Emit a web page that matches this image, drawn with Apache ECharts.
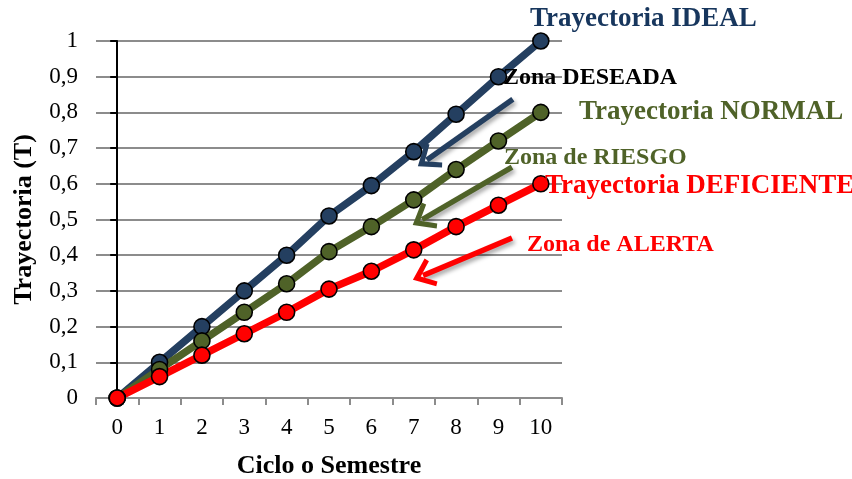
<!DOCTYPE html>
<html>
<head>
<meta charset="utf-8">
<script src="https://cdn.jsdelivr.net/npm/echarts@6/dist/echarts.min.js"></script>
<style>
html,body{margin:0;padding:0;background:#fff;}
#c{width:852px;height:479px;}
</style>
</head>
<body>
<div id="c"></div>
<script>
var categories = ['0','1','2','3','4','5','6','7','8','9','10'];
var yTickLabels = ['0','0,1','0,2','0,3','0,4','0,5','0,6','0,7','0,8','0,9','1'];
var ideal = [0, 0.1, 0.2, 0.3, 0.4, 0.51, 0.595, 0.69, 0.795, 0.9, 1.0];
var normal = [0, 0.08, 0.16, 0.24, 0.32, 0.41, 0.48, 0.555, 0.64, 0.72, 0.8];
var deficiente = [0, 0.06, 0.12, 0.18, 0.24, 0.305, 0.355, 0.415, 0.48, 0.54, 0.6];
var seriesNames = ['Trayectoria IDEAL', 'Trayectoria NORMAL', 'Trayectoria DEFICIENTE'];
var zoneNames = ['Zona DESEADA', 'Zona de RIESGO', 'Zona de ALERTA'];

var FONT = '"Liberation Serif", "Times New Roman", serif';
var cNavy = '#243F60', cOlive = '#4F6228', cRed = '#FF0000';
var chevron = 'path://M15,0 L30,19 L26,22 L15,8.5 L4,22 L0,19 Z';
var chevSize = [30, 22];

function lineSeries(name, data, color) {
  return {
    name: name, type: 'line', data: data,
    xAxisIndex: 0, yAxisIndex: 0,
    symbol: 'circle', symbolSize: 16,
    lineStyle: { color: color, width: 7.5 },
    itemStyle: { color: color, borderColor: '#000', borderWidth: 1.6 },
    animation: false
  };
}
function arrowSeries(from, to, color) {
  return {
    type: 'line', data: [], xAxisIndex: 1, yAxisIndex: 0, silent: true, animation: false,
    markLine: {
      silent: true, animation: false,
      symbol: ['none', chevron], symbolSize: [[1, 1], chevSize],
      label: { show: false },
      lineStyle: { color: color, width: 5.5, type: 'solid',
        shadowColor: 'rgba(0,0,0,0.35)', shadowBlur: 4, shadowOffsetX: 2, shadowOffsetY: 3 },
      data: [[{ coord: from, symbol: 'none' }, { coord: to, symbol: chevron, symbolSize: chevSize }]]
    }
  };
}

var chart = echarts.init(document.getElementById('c'), null, { renderer: 'canvas' });
chart.setOption({
  backgroundColor: '#fff',
  animation: false,
  grid: { left: 96, right: 290, top: 41, bottom: 81, containLabel: false, outerBoundsMode: 'none' },
  xAxis: [{
    type: 'category', data: categories, boundaryGap: true,
    name: 'Ciclo o Semestre', nameLocation: 'middle', nameGap: 55,
    nameTextStyle: { fontFamily: FONT, fontWeight: 'bold', fontSize: 26, color: '#000' },
    axisLine: { lineStyle: { color: '#8c8c8c', width: 2 } },
    axisTick: { show: true, alignWithLabel: false, length: 7, lineStyle: { color: '#8c8c8c', width: 2 } },
    axisLabel: { fontFamily: FONT, fontSize: 23, color: '#000', margin: 18 },
    splitLine: { show: false }
  }, {
    type: 'value', min: -0.5, max: 10.5, show: false
  }],
  yAxis: [{
    type: 'value', min: 0, max: 1, interval: 0.1,
    name: 'Trayectoria (T)', nameLocation: 'middle', nameGap: 59, nameRotate: 90,
    nameTextStyle: { fontFamily: FONT, fontWeight: 'bold', fontSize: 26, color: '#000' },
    axisLine: { show: true, lineStyle: { color: '#000', width: 2 } },
    axisTick: { show: true, length: 7, lineStyle: { color: '#000', width: 2 } },
    axisLabel: { fontFamily: FONT, fontSize: 23, color: '#000', margin: 18,
      formatter: function (v) { return yTickLabels[Math.round(v * 10)]; } },
    splitLine: { show: true, lineStyle: { color: '#8c8c8c', width: 2 } }
  }],
  series: [
    lineSeries(seriesNames[0], ideal, cNavy),
    lineSeries(seriesNames[1], normal, cOlive),
    lineSeries(seriesNames[2], deficiente, cRed),
    arrowSeries([9.34, 0.837], [7.31, 0.667], cNavy),
    arrowSeries([9.32, 0.647], [7.2, 0.5], cOlive),
    arrowSeries([9.32, 0.448], [7.22, 0.343], cRed)
  ],
  graphic: [
    { type: 'text', left: 530, top: 6, z: 100, style: { text: seriesNames[0], fill: '#17365D', font: 'bold 27px ' + FONT } },
    { type: 'text', left: 503, top: 66, z: 100, style: { text: zoneNames[0], fill: '#000', font: 'bold 24px ' + FONT } },
    { type: 'text', left: 579, top: 99, z: 100, style: { text: seriesNames[1], fill: cOlive, font: 'bold 27px ' + FONT } },
    { type: 'text', left: 504, top: 146, z: 100, style: { text: zoneNames[1], fill: cOlive, font: 'bold 24px ' + FONT } },
    { type: 'text', left: 545, top: 173, z: 100, style: { text: seriesNames[2], fill: cRed, font: 'bold 27px ' + FONT } },
    { type: 'text', left: 527, top: 233, z: 100, style: { text: zoneNames[2], fill: cRed, font: 'bold 24px ' + FONT } }
  ]
});
</script>
</body>
</html>
